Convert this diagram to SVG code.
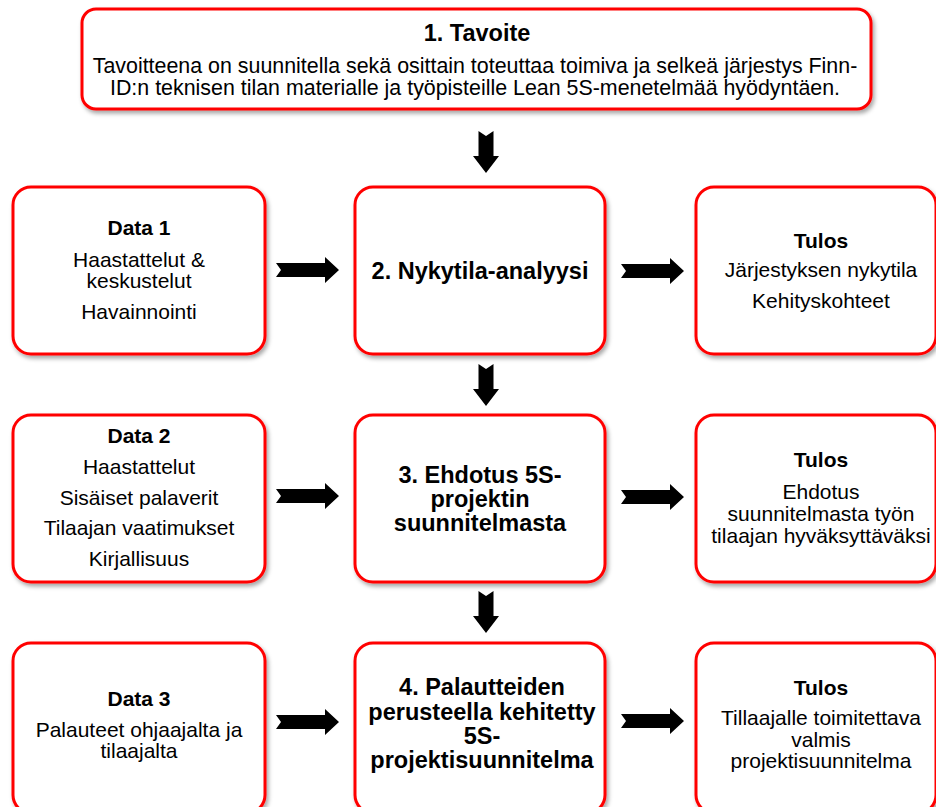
<svg xmlns="http://www.w3.org/2000/svg" width="936" height="807" viewBox="0 0 936 807">
  <defs>
    <filter id="sh" x="-10%" y="-10%" width="130%" height="130%">
      <feDropShadow dx="2" dy="3" stdDeviation="2.2" flood-color="#000" flood-opacity="0.35"/>
    </filter>
    <path id="ah" d="M0,-7 H49 V-13 L63,0 L49,13 V7 H0 L5,0 Z"/>
    <path id="av" d="M-7.5,0 L0,5 L7.5,0 V25 H13 L0,42 L-13,25 H-7.5 Z"/>
  </defs>
  <style>
    .box { fill: #fff; stroke: #ff0000; stroke-width: 3; filter: url(#sh); }
    text { font-family: "Liberation Sans", Arial, sans-serif; fill: #000; text-anchor: middle; }
    .t { font-size: 21px; }
    .tt { font-size: 21.4px; }
    .b { font-size: 21px; font-weight: bold; }
    .m { font-size: 23.5px; font-weight: bold; }
    .arr { fill: #000; }
  </style>
  <rect width="936" height="807" fill="#fff"/>

  <g id="n1">
    <rect class="box" x="82" y="9" width="789" height="100" rx="14"/>
    <text class="m" x="477" y="41">1. Tavoite</text>
    <text class="tt" x="475" y="73">Tavoitteena on suunnitella sekä osittain toteuttaa toimiva ja selkeä järjestys Finn-</text>
    <text class="tt" x="475" y="95">ID:n teknisen tilan materialle ja työpisteille Lean 5S-menetelmää hyödyntäen.</text>
  </g>

  <g id="data1">
    <rect class="box" x="13" y="187" width="252" height="167" rx="18"/>
    <text class="b" x="139" y="235">Data 1</text>
    <text class="t" x="139" y="267">Haastattelut &amp;</text>
    <text class="t" x="139" y="288">keskustelut</text>
    <text class="t" x="139" y="319">Havainnointi</text>
  </g>

  <g id="n2">
    <rect class="box" x="355" y="187" width="250" height="167" rx="18"/>
    <text class="m" x="480" y="279">2. Nykytila-analyysi</text>
  </g>

  <g id="tulos1">
    <rect class="box" x="696" y="187" width="240" height="167" rx="18"/>
    <text class="b" x="821" y="248">Tulos</text>
    <text class="t" x="821" y="277">Järjestyksen nykytila</text>
    <text class="t" x="821" y="308">Kehityskohteet</text>
  </g>

  <g id="data2">
    <rect class="box" x="13" y="415" width="252" height="167" rx="18"/>
    <text class="b" x="139" y="443">Data 2</text>
    <text class="t" x="139" y="474">Haastattelut</text>
    <text class="t" x="139" y="505">Sisäiset palaverit</text>
    <text class="t" x="139" y="535">Tilaajan vaatimukset</text>
    <text class="t" x="139" y="566">Kirjallisuus</text>
  </g>

  <g id="n3">
    <rect class="box" x="355" y="415" width="250" height="167" rx="18"/>
    <text class="m" x="480" y="483">3. Ehdotus 5S-</text>
    <text class="m" x="480" y="507">projektin</text>
    <text class="m" x="480" y="531">suunnitelmasta</text>
  </g>

  <g id="tulos2">
    <rect class="box" x="696" y="415" width="240" height="167" rx="18"/>
    <text class="b" x="821" y="467">Tulos</text>
    <text class="t" x="821" y="499">Ehdotus</text>
    <text class="t" x="821" y="521">suunnitelmasta työn</text>
    <text class="t" x="821" y="543">tilaajan hyväksyttäväksi</text>
  </g>

  <g id="data3">
    <rect class="box" x="13" y="643" width="252" height="170" rx="18"/>
    <text class="b" x="139" y="706">Data 3</text>
    <text class="t" x="139" y="737">Palauteet ohjaajalta ja</text>
    <text class="t" x="139" y="758">tilaajalta</text>
  </g>

  <g id="n4">
    <rect class="box" x="355" y="643" width="250" height="170" rx="18"/>
    <text class="m" x="482" y="695">4. Palautteiden</text>
    <text class="m" x="482" y="720">perusteella kehitetty</text>
    <text class="m" x="482" y="744">5S-</text>
    <text class="m" x="482" y="768">projektisuunnitelma</text>
  </g>

  <g id="tulos3">
    <rect class="box" x="696" y="643" width="240" height="170" rx="18"/>
    <text class="b" x="821" y="695">Tulos</text>
    <text class="t" x="821" y="725">Tillaajalle toimitettava</text>
    <text class="t" x="821" y="747">valmis</text>
    <text class="t" x="821" y="768">projektisuunnitelma</text>
  </g>

  <g id="connectors" class="arr">
    <use href="#av" x="486" y="131"/>
    <use href="#av" x="486" y="364"/>
    <use href="#av" x="486" y="591"/>
    <use href="#ah" x="276" y="270"/>
    <use href="#ah" x="621" y="271"/>
    <use href="#ah" x="276" y="496"/>
    <use href="#ah" x="621" y="497"/>
    <use href="#ah" x="276" y="722"/>
    <use href="#ah" x="621" y="721"/>
  </g>
</svg>
